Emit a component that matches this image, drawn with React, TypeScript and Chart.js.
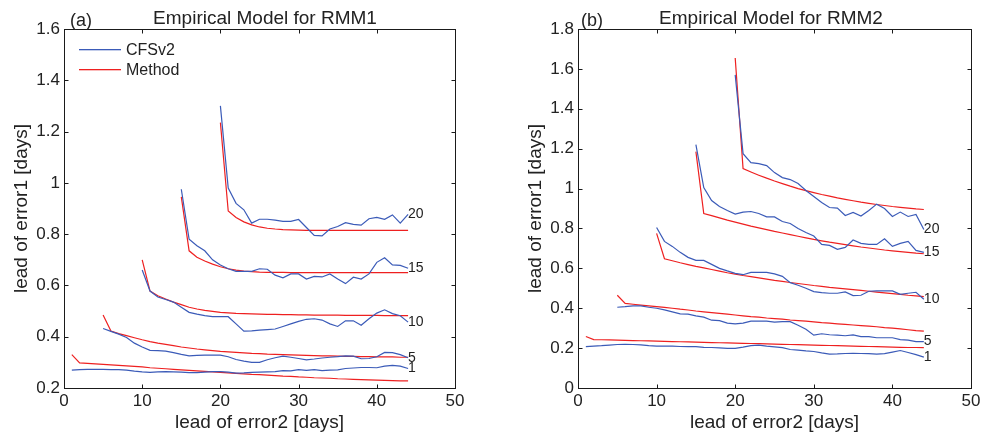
import React, { useEffect, useRef } from "react";
import { Chart, registerables } from "chart.js";

Chart.register(...registerables);

// ---------- data ----------
const leadStarts = [1, 5, 10, 15, 20];
const curveLabels = ["1", "5", "10", "15", "20"];
const xTicks = [0, 10, 20, 30, 40, 50];

// Panel (a) RMM1
const a1Cfs = [0.270,0.272,0.273,0.273,0.273,0.272,0.272,0.270,0.266,0.263,0.261,0.263,0.264,0.263,0.262,0.260,0.260,0.262,0.264,0.264,0.262,0.258,0.259,0.261,0.262,0.263,0.264,0.268,0.267,0.272,0.269,0.272,0.268,0.270,0.271,0.276,0.278,0.280,0.280,0.279,0.285,0.288,0.285,0.276];
const a1Method = [0.330,0.298,0.296,0.294,0.292,0.290,0.288,0.286,0.284,0.282,0.279,0.277,0.275,0.273,0.271,0.269,0.267,0.265,0.263,0.261,0.259,0.257,0.255,0.253,0.252,0.250,0.248,0.246,0.245,0.243,0.242,0.240,0.239,0.238,0.236,0.235,0.234,0.233,0.232,0.231,0.230,0.229,0.228,0.228];
const a5Cfs = [0.432,0.421,0.410,0.397,0.375,0.360,0.347,0.346,0.344,0.338,0.331,0.325,0.327,0.328,0.328,0.328,0.322,0.311,0.305,0.300,0.300,0.310,0.318,0.324,0.320,0.315,0.310,0.313,0.317,0.320,0.322,0.325,0.324,0.314,0.315,0.322,0.339,0.338,0.330,0.318];
const a5Method = [0.485,0.422,0.412,0.404,0.396,0.388,0.381,0.375,0.370,0.365,0.360,0.356,0.352,0.349,0.346,0.343,0.341,0.339,0.337,0.335,0.334,0.332,0.331,0.330,0.329,0.328,0.327,0.326,0.325,0.325,0.324,0.323,0.323,0.322,0.322,0.321,0.321,0.321,0.320,0.320];
const a10Cfs = [0.660,0.578,0.555,0.545,0.535,0.515,0.495,0.488,0.482,0.478,0.478,0.478,0.450,0.422,0.423,0.426,0.428,0.430,0.440,0.450,0.460,0.468,0.470,0.465,0.450,0.440,0.462,0.462,0.445,0.470,0.492,0.505,0.490,0.482,0.457];
const a10Method = [0.700,0.578,0.560,0.547,0.535,0.525,0.515,0.508,0.503,0.499,0.495,0.493,0.491,0.490,0.489,0.488,0.487,0.487,0.486,0.486,0.485,0.485,0.484,0.484,0.484,0.484,0.483,0.483,0.483,0.483,0.483,0.482,0.482,0.482,0.482];
const a15Cfs = [0.975,0.780,0.755,0.735,0.700,0.680,0.665,0.655,0.655,0.655,0.665,0.663,0.640,0.630,0.645,0.645,0.625,0.635,0.633,0.645,0.625,0.607,0.632,0.625,0.645,0.690,0.708,0.680,0.678,0.667];
const a15Method = [0.945,0.735,0.710,0.695,0.683,0.673,0.665,0.660,0.656,0.654,0.652,0.651,0.651,0.651,0.650,0.650,0.650,0.650,0.650,0.650,0.650,0.650,0.650,0.650,0.650,0.650,0.650,0.650,0.650,0.650];
const a20Cfs = [1.300,0.980,0.920,0.895,0.843,0.858,0.858,0.855,0.850,0.850,0.857,0.826,0.795,0.793,0.820,0.830,0.845,0.838,0.835,0.860,0.865,0.858,0.875,0.843,0.877];
const a20Method = [1.235,0.890,0.865,0.848,0.836,0.828,0.823,0.820,0.818,0.817,0.816,0.815,0.815,0.815,0.815,0.815,0.815,0.815,0.815,0.815,0.815,0.815,0.815,0.815,0.815];

// Panel (b) RMM2
const b1Cfs = [0.207,0.210,0.212,0.215,0.218,0.219,0.218,0.216,0.212,0.210,0.210,0.210,0.208,0.207,0.207,0.204,0.203,0.201,0.199,0.199,0.205,0.212,0.215,0.210,0.206,0.202,0.193,0.190,0.186,0.183,0.176,0.170,0.171,0.173,0.174,0.173,0.172,0.170,0.172,0.180,0.188,0.178,0.167,0.155];
const b1Method = [0.258,0.243,0.242,0.241,0.240,0.239,0.238,0.237,0.236,0.235,0.234,0.233,0.232,0.231,0.230,0.229,0.228,0.227,0.226,0.225,0.224,0.223,0.222,0.221,0.220,0.219,0.218,0.217,0.216,0.215,0.214,0.213,0.212,0.211,0.210,0.209,0.208,0.207,0.206,0.205,0.204,0.203,0.203,0.202];
const b5Cfs = [0.405,0.408,0.412,0.412,0.405,0.400,0.392,0.382,0.372,0.370,0.362,0.355,0.340,0.338,0.325,0.322,0.325,0.335,0.335,0.335,0.330,0.333,0.333,0.315,0.295,0.265,0.272,0.267,0.265,0.262,0.266,0.258,0.258,0.252,0.252,0.252,0.243,0.240,0.233,0.233];
const b5Method = [0.465,0.424,0.420,0.416,0.412,0.408,0.404,0.400,0.395,0.391,0.386,0.382,0.378,0.374,0.370,0.366,0.362,0.358,0.355,0.351,0.348,0.345,0.341,0.338,0.335,0.332,0.328,0.325,0.322,0.319,0.316,0.313,0.310,0.307,0.303,0.300,0.296,0.292,0.288,0.285];
const b10Cfs = [0.805,0.735,0.710,0.680,0.655,0.640,0.640,0.620,0.600,0.587,0.575,0.568,0.580,0.580,0.580,0.572,0.560,0.528,0.515,0.500,0.483,0.478,0.475,0.475,0.482,0.463,0.465,0.485,0.487,0.487,0.487,0.470,0.475,0.480,0.445];
const b10Method = [0.775,0.648,0.638,0.628,0.619,0.610,0.602,0.594,0.586,0.578,0.571,0.564,0.558,0.552,0.546,0.540,0.535,0.529,0.524,0.519,0.514,0.510,0.505,0.501,0.497,0.493,0.489,0.485,0.481,0.477,0.473,0.469,0.465,0.462,0.458];
const b15Cfs = [1.220,1.005,0.940,0.910,0.890,0.872,0.882,0.885,0.875,0.858,0.858,0.835,0.825,0.800,0.780,0.762,0.720,0.715,0.695,0.705,0.742,0.725,0.720,0.720,0.748,0.710,0.725,0.735,0.690,0.680];
const b15Method = [1.185,0.875,0.864,0.853,0.842,0.832,0.822,0.812,0.803,0.794,0.785,0.777,0.769,0.761,0.753,0.745,0.738,0.731,0.725,0.719,0.713,0.707,0.702,0.697,0.692,0.688,0.684,0.680,0.676,0.673];
const b20Cfs = [1.570,1.175,1.130,1.125,1.115,1.080,1.055,1.045,1.025,0.990,0.960,0.930,0.905,0.902,0.865,0.880,0.862,0.890,0.922,0.900,0.860,0.882,0.860,0.870,0.795];
const b20Method = [1.655,1.100,1.083,1.067,1.052,1.038,1.025,1.012,1.000,0.990,0.980,0.970,0.962,0.953,0.946,0.939,0.932,0.926,0.920,0.915,0.910,0.906,0.902,0.898,0.895];

// ---------- styling ----------
const FONT = "'Liberation Sans', Arial, Helvetica, sans-serif";
const TEXT = "#222222";
const BLUE = "#3b5bb8";
const RED = "#ee2020";

type PanelCfg = {
  left: number;
  width: number;
  padRight: number;
  yMin: number;
  yMax: number;
  title: string;
  titleX: number;
  letter: string;
  letterX: number;
  legend: boolean;
  cfs: number[][];
  method: number[][];
};

const panels: PanelCfg[] = [
  {
    left: 0, width: 490, padRight: 35, yMin: 0.2, yMax: 1.6,
    title: "Empirical Model for RMM1", titleX: 265, letter: "(a)", letterX: 70, legend: true,
    cfs: [a1Cfs, a5Cfs, a10Cfs, a15Cfs, a20Cfs],
    method: [a1Method, a5Method, a10Method, a15Method, a20Method],
  },
  {
    left: 514, width: 470, padRight: 13, yMin: 0, yMax: 1.8,
    title: "Empirical Model for RMM2", titleX: 257, letter: "(b)", letterX: 67, legend: false,
    cfs: [b1Cfs, b5Cfs, b10Cfs, b15Cfs, b20Cfs],
    method: [b1Method, b5Method, b10Method, b15Method, b20Method],
  },
];

const legendNames = ["CFSv2", "Method"];
const legendColors = [BLUE, RED];

function toPoints(values: number[], start: number) {
  return values.map((v, i) => ({ x: start + i, y: v }));
}

function fmt(v: number) {
  return String(parseFloat(Number(v).toFixed(1)));
}

function makePlugin(cfg: PanelCfg) {
  return {
    id: "frame",
    afterDraw(chart: any) {
      const { ctx, chartArea, scales } = chart;
      const xs = scales.x;
      const ys = scales.y;
      const l = Math.round(chartArea.left) + 0.5;
      const r = Math.round(chartArea.right) + 0.5;
      const t = Math.round(chartArea.top) + 0.5;
      const b = Math.round(chartArea.bottom) + 0.5;
      ctx.save();
      ctx.strokeStyle = "#1a1a1a";
      ctx.lineWidth = 1;
      ctx.strokeRect(l, t, r - l, b - t);
      ctx.beginPath();
      xs.ticks.forEach((tk: any) => {
        if (tk.value <= xs.min || tk.value >= xs.max) return;
        const px = Math.round(xs.getPixelForValue(tk.value)) + 0.5;
        ctx.moveTo(px, b); ctx.lineTo(px, b - 4);
        ctx.moveTo(px, t); ctx.lineTo(px, t + 4);
      });
      ys.ticks.forEach((tk: any) => {
        if (tk.value <= ys.min + 1e-9 || tk.value >= ys.max - 1e-9) return;
        const py = Math.round(ys.getPixelForValue(tk.value)) + 0.5;
        ctx.moveTo(l, py); ctx.lineTo(l + 4, py);
        ctx.moveTo(r, py); ctx.lineTo(r - 4, py);
      });
      ctx.stroke();
      ctx.restore();

      // curve labels at end of CFSv2 curves
      ctx.save();
      ctx.fillStyle = TEXT;
      ctx.font = `14px ${FONT}`;
      ctx.textAlign = "left";
      ctx.textBaseline = "middle";
      cfg.cfs.forEach((arr, i) => {
        const lastX = leadStarts[i] + arr.length - 1;
        const px = xs.getPixelForValue(lastX);
        const py = ys.getPixelForValue(arr[arr.length - 1]);
        ctx.fillText(curveLabels[i], px, py);
      });

      // title and panel letter
      ctx.textBaseline = "alphabetic";
      ctx.textAlign = "center";
      ctx.font = `19px ${FONT}`;
      ctx.fillText(cfg.title, cfg.titleX, 24);
      ctx.textAlign = "left";
      ctx.font = `18px ${FONT}`;
      ctx.fillText(cfg.letter, cfg.letterX, 26);
      ctx.restore();

      // legend
      if (cfg.legend) {
        for (let k = 0; k < legendNames.length; k++) {
          const yy = 49 + k * 20;
          ctx.save();
          ctx.fillStyle = legendColors[k];
          ctx.fillRect(79, yy, 42, 1.3);
          ctx.fillStyle = TEXT;
          ctx.font = `16px ${FONT}`;
          ctx.textAlign = "left";
          ctx.textBaseline = "middle";
          ctx.fillText(legendNames[k], 126, yy + 1.5);
          ctx.restore();
        }
      }
    },
  };
}

function buildConfig(cfg: PanelCfg): any {
  const datasets: any[] = [];
  cfg.cfs.forEach((arr, i) => {
    datasets.push({
      label: "CFSv2",
      data: toPoints(arr, leadStarts[i]),
      borderColor: BLUE,
      borderWidth: 1.2,
      pointRadius: 0,
      fill: false,
      tension: 0,
    });
  });
  cfg.method.forEach((arr, i) => {
    datasets.push({
      label: "Method",
      data: toPoints(arr, leadStarts[i]),
      borderColor: RED,
      borderWidth: 1.2,
      pointRadius: 0,
      fill: false,
      tension: 0,
    });
  });
  return {
    type: "line",
    data: { datasets },
    options: {
      animation: false,
      responsive: false,
      devicePixelRatio: 1,
      layout: { padding: { top: 29, right: cfg.padRight, left: 0, bottom: 0 } },
      plugins: { legend: { display: false }, title: { display: false }, tooltip: { enabled: false } },
      scales: {
        x: {
          type: "linear",
          min: 0,
          max: 50,
          afterBuildTicks: (s: any) => { s.ticks = xTicks.map((v) => ({ value: v })); },
          ticks: { padding: 3, color: TEXT, font: { family: FONT, size: 17 }, maxRotation: 0, autoSkip: false },
          grid: { display: false, drawTicks: false },
          border: { display: false },
          title: {
            display: true,
            text: "lead of error2 [days]",
            color: TEXT,
            font: { family: FONT, size: 19 },
            padding: { top: 0, bottom: 4 },
          },
          afterFit: (s: any) => { s.height = 50; },
        },
        y: {
          type: "linear",
          min: cfg.yMin,
          max: cfg.yMax,
          ticks: {
            stepSize: 0.2,
            padding: 4,
            color: TEXT,
            font: { family: FONT, size: 17 },
            callback: (v: any) => fmt(v),
          },
          grid: { display: false, drawTicks: false },
          border: { display: false },
          title: {
            display: true,
            text: "lead of error1 [days]",
            color: TEXT,
            font: { family: FONT, size: 19 },
            padding: { top: 10, bottom: 0 },
          },
          afterFit: (s: any) => { s.width = 64; },
        },
      },
    },
    plugins: [makePlugin(cfg)],
  };
}

function Panel({ cfg }: { cfg: PanelCfg }) {
  const ref = useRef<HTMLCanvasElement | null>(null);
  useEffect(() => {
    if (!ref.current) return;
    const chart = new Chart(ref.current, buildConfig(cfg));
    return () => chart.destroy();
  }, [cfg]);
  return (
    <canvas
      ref={ref}
      width={cfg.width}
      height={438}
      style={{ position: "absolute", left: cfg.left, top: 0, width: cfg.width, height: 438 }}
    />
  );
}

export default function App() {
  return (
    <div style={{ position: "absolute", left: 0, top: 0, width: 984, height: 438, background: "#fff" }}>
      {panels.map((p) => (
        <Panel key={p.letter} cfg={p} />
      ))}
    </div>
  );
}
